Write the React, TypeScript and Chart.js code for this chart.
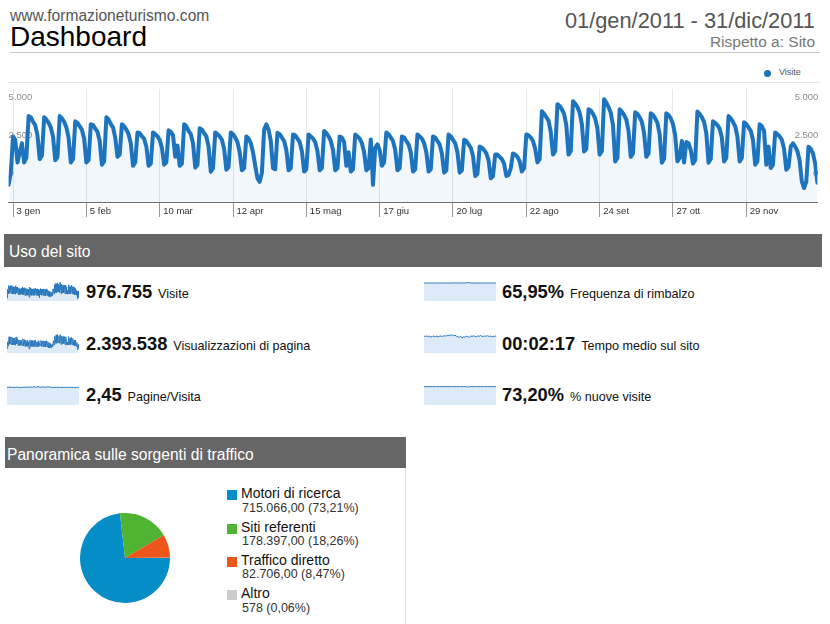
import React, { useEffect, useRef } from 'react';
import { Chart, registerables } from 'chart.js';

Chart.register(...registerables);

const FONT = "'Liberation Sans', Arial, Helvetica, sans-serif";
Chart.defaults.font.family = FONT;

// Daily visits, 2011 (one array per month)
const jan = [760, 1300, 2900, 2750, 1750, 2200, 2600, 1750, 1950, 3800, 3750, 3550, 3400, 2950, 1900, 2050, 3750, 3650, 3500, 3300, 2900, 1850, 2000, 3800, 3700, 3550, 3300, 2850, 1750, 1900, 3570];
const feb = [3500, 3350, 3200, 2800, 1750, 1850, 3440, 3400, 3250, 3100, 2700, 1650, 1800, 3750, 3650, 3450, 3300, 2850, 2000, 2100, 3440, 3350, 3200, 3000, 2600, 1600, 1750, 3080];
const mar = [3050, 2900, 2800, 2450, 1600, 1700, 3080, 3000, 2900, 2750, 2400, 1650, 1750, 3170, 3100, 2950, 2000, 2500, 1600, 1700, 3440, 3350, 3150, 3000, 2600, 1520, 1650, 3260, 3200, 3050, 2900];
const apr = [2450, 1340, 1500, 3080, 3000, 2900, 2750, 2350, 1430, 1550, 3080, 3000, 2850, 2650, 2200, 1400, 1500, 2900, 2800, 2600, 2200, 1600, 1050, 890, 1300, 3200, 3440, 3200, 2700, 1500];
const may = [1450, 3060, 3000, 2850, 2700, 2300, 1400, 1500, 2990, 2950, 2800, 2650, 2250, 1350, 1450, 2990, 2900, 2800, 2650, 2250, 1400, 1500, 3140, 3050, 2900, 2700, 2300, 1400, 1500, 2900, 2850];
const jun = [2650, 1600, 2200, 1350, 1450, 2990, 2900, 2800, 2600, 2200, 1400, 1500, 2770, 760, 2400, 2550, 2300, 1600, 1750, 3080, 3000, 2850, 2700, 2300, 1400, 1500, 2900, 2850, 2700, 2550];
const jul = [2200, 1350, 1450, 2990, 2900, 2800, 2600, 2200, 1350, 1450, 2900, 2850, 2700, 2550, 2150, 1300, 1400, 2990, 2900, 2750, 2600, 2200, 1300, 1400, 2750, 2700, 2550, 2400, 2050, 1150, 1250];
const aug = [2450, 2400, 2300, 2150, 1850, 1050, 1150, 2100, 2100, 2000, 1900, 1700, 1150, 1200, 1500, 2150, 2100, 2000, 1800, 1350, 1500, 2990, 2950, 2850, 2700, 2350, 1750, 1900, 4020, 3900, 3750];
const sep = [3600, 3100, 2100, 2250, 4330, 4250, 4100, 3900, 3400, 2100, 2250, 4460, 4350, 4200, 3950, 3450, 2230, 2350, 4100, 4050, 3900, 3700, 3250, 2100, 2250, 4550, 4400, 4200, 3950, 3400];
const oct = [1790, 1950, 4100, 4000, 3850, 3650, 3150, 2000, 2150, 3970, 3900, 3750, 3550, 3050, 2000, 2150, 3930, 3850, 3700, 3500, 3000, 1740, 1900, 3930, 3850, 3700, 3450, 2950, 1800, 1950, 2700];
const nov = [1750, 2650, 2600, 2300, 1700, 1850, 4000, 3900, 3750, 3550, 3050, 1740, 1900, 3570, 3500, 3400, 3250, 2850, 1790, 1950, 3800, 3700, 3550, 3350, 2900, 1790, 1950, 3530, 3450, 3300];
const dec = [3150, 2750, 1650, 1800, 3440, 3350, 3150, 1650, 2450, 1500, 1650, 3080, 3000, 2900, 2750, 2350, 1430, 1550, 2450, 2600, 2450, 2250, 1850, 900, 620, 900, 2450, 2350, 2150, 1700, 850];

const visits = [...jan, ...feb, ...mar, ...apr, ...may, ...jun, ...jul, ...aug, ...sep, ...oct, ...nov, ...dec];

// X axis: day-of-year of each labelled tick
const tickDays = [2, 35, 68, 101, 134, 167, 200, 233, 266, 299, 332];
const tickLabels = ['3 gen', '5 feb', '10 mar', '12 apr', '15 mag', '17 giu', '20 lug', '22 ago', '24 set', '27 ott', '29 nov'];
const yTickLabels = ['5.000', '2.500', '0'];

// Sparkline series (weekly resolution)
const pageviews = [2500, 6100, 3900, 8800, 4800, 8600, 4700, 8700, 4400, 8100, 4400, 8000, 4200, 8600, 5000, 7700, 4100, 7100, 4000, 7000, 4200, 6700, 4000, 7700, 3900, 7300, 3500, 6900, 3700, 6700, 3600, 5900, 2300, 6900, 3600, 6800, 3600, 6700, 3400, 6700, 3500, 7000, 3500, 6000, 3400, 6600, 3600, 5300, 4100, 6800, 3500, 6500, 3400, 6600, 3400, 6500, 3300, 6600, 3300, 6100, 2900, 5500, 2700, 4800, 2900, 4700, 3500, 6700, 4500, 9100, 5300, 9800, 5300, 10000, 5600, 9300, 5300, 10000, 4600, 9200, 5100, 8900, 5100, 8800, 4500, 8800, 4600, 5900, 4300, 8900, 4500, 8100, 4600, 8500, 4600, 7900, 4200, 6900, 3800, 6900, 3600, 5700, 1900, 4600, 2100];
const pagesPerVisit = [2.40, 2.46, 2.44, 2.47, 2.43, 2.45, 2.42, 2.48, 2.44, 2.41, 2.46, 2.43, 2.45, 2.47, 2.44, 2.50, 2.46, 2.48, 2.45, 2.52, 2.47, 2.49, 2.55, 2.48, 2.46, 2.50, 2.47, 2.45, 2.49, 2.52, 2.47, 2.44, 2.46, 2.42, 2.45, 2.43, 2.47, 2.44, 2.41, 2.45, 2.43, 2.46, 2.44, 2.42, 2.45, 2.43, 2.44, 2.41, 2.44, 2.42, 2.43, 2.45];
const bounceRate = [66.2, 65.8, 66.0, 65.7, 66.1, 65.9, 66.3, 65.8, 66.0, 65.6, 65.9, 66.1, 65.7, 66.0, 65.8, 66.2, 65.9, 66.1, 65.7, 65.9, 66.0, 66.4, 66.1, 66.3, 65.9, 66.1, 65.8, 66.0, 66.2, 65.9, 66.6, 67.6, 66.4, 66.1, 65.9, 65.7, 66.0, 65.8, 66.1, 65.9, 65.8, 66.0, 65.9, 65.7, 66.1, 65.9, 65.8, 66.0, 65.9, 66.1, 65.8, 66.0];
const avgTime = [138, 134, 140, 132, 136, 130, 135, 138, 133, 137, 131, 136, 139, 134, 141, 137, 143, 139, 147, 141, 150, 138, 145, 136, 132, 128, 135, 124, 131, 129, 136, 133, 127, 138, 134, 140, 136, 131, 139, 135, 142, 137, 133, 139, 136, 141, 135, 138, 132, 137, 134, 140];
const newVisits = [73.0, 73.3, 73.1, 73.4, 73.2, 73.0, 73.3, 73.1, 73.2, 73.4, 73.1, 73.3, 73.0, 73.2, 73.4, 73.1, 73.3, 73.2, 73.0, 73.3, 73.1, 73.2, 73.4, 73.1, 73.3, 73.0, 73.2, 73.4, 73.1, 73.0, 72.6, 71.4, 72.9, 73.1, 73.2, 73.0, 73.3, 73.1, 73.2, 73.4, 73.1, 73.3, 73.0, 73.2, 73.1, 73.3, 73.2, 73.0, 73.3, 73.1, 73.2, 73.0];

// Traffic sources
const sourceLabels = ['Motori di ricerca', 'Siti referenti', 'Traffico diretto', 'Altro'];
const sourceValues = [715066, 178397, 82706, 578];
const sourceValueText = ['715.066,00 (73,21%)', '178.397,00 (18,26%)', '82.706,00 (8,47%)', '578 (0,06%)'];
const sourceColors = ['#058dc7', '#50b432', '#ed561b', '#cccccc'];

const LINE_BLUE = '#1d74bd';

// y labels sit inside the plot, mirrored on both sides, beneath the line
const yLabelsPlugin = {
  id: 'yLabels',
  beforeDatasetsDraw(chart: any) {
    const { ctx, chartArea } = chart;
    ctx.save();
    ctx.font = `9.5px ${FONT}`;
    ctx.fillStyle = '#8c8c8c';
    ctx.textBaseline = 'middle';
    yTickLabels.forEach((t, i) => {
      const y = chartArea.top + 8.7 + i * 37.8;
      ctx.textAlign = 'left';
      ctx.fillText(t, chartArea.left, y);
      ctx.textAlign = 'right';
      ctx.fillText(t, chartArea.right + 1, y);
    });
    ctx.restore();
  },
};

function mainConfig(): any {
  return {
    type: 'line',
    data: {
      datasets: [
        {
          data: visits.map((v, i) => ({ x: i, y: v })),
          borderColor: LINE_BLUE,
          borderWidth: 4,
          backgroundColor: 'rgba(29,116,189,0.06)',
          fill: 'origin',
          pointRadius: 0,
          tension: 0,
          borderJoinStyle: 'round',
          borderCapStyle: 'round',
        },
      ],
    },
    options: {
      animation: false,
      responsive: false,
      events: [],
      layout: { padding: { left: 8.6, right: 12.6, top: 5, bottom: 0 } },
      plugins: { legend: { display: false }, tooltip: { enabled: false } },
      scales: {
        x: {
          type: 'linear',
          min: 0,
          max: 364,
          afterBuildTicks: (s: any) => {
            s.ticks = tickDays.map((v) => ({ value: v }));
          },
          afterFit: (s: any) => {
            s.height = 20;
          },
          grid: { color: '#e6e6e6', tickLength: 15, tickColor: '#9a9a9a', lineWidth: 1 },
          border: { color: '#707070', width: 1 },
          ticks: {
            autoSkip: false,
            maxRotation: 0,
            align: 'start',
            labelOffset: 3.5,
            padding: -11,
            color: '#333',
            font: { size: 9.5 },
            callback: (_v: any, i: number) => tickLabels[i],
          },
        },
        y: { display: false, min: 0, max: 5000 },
      },
    },
    plugins: [yLabelsPlugin],
  };
}

function sparkConfig(values: number[], lineWidth: number): any {
  const max = Math.max(...values);
  return {
    type: 'line',
    data: {
      labels: values.map((_, i) => i),
      datasets: [
        {
          data: values,
          borderColor: '#2a78bd',
          borderWidth: lineWidth,
          backgroundColor: '#dcebf7',
          fill: 'origin',
          pointRadius: 0,
          tension: 0,
        },
      ],
    },
    options: {
      animation: false,
      responsive: false,
      events: [],
      layout: { padding: 0 },
      plugins: { legend: { display: false }, tooltip: { enabled: false } },
      scales: {
        x: { display: false },
        y: { display: false, min: 0, max: max * 1.03 },
      },
    },
  };
}

function pieConfig(): any {
  return {
    type: 'pie',
    data: {
      labels: sourceLabels,
      datasets: [{ data: sourceValues, backgroundColor: sourceColors, borderWidth: 0 }],
    },
    options: {
      animation: false,
      responsive: false,
      events: [],
      rotation: 90,
      layout: { padding: 0 },
      plugins: { legend: { display: false }, tooltip: { enabled: false } },
    },
  };
}

function ChartCanvas(props: { left: number; top: number; width: number; height: number; build: () => any }) {
  const { left, top, width, height, build } = props;
  const ref = useRef<HTMLCanvasElement>(null);
  useEffect(() => {
    const chart = new Chart(ref.current as HTMLCanvasElement, build());
    return () => chart.destroy();
  }, []);
  return (
    <canvas
      ref={ref}
      width={width}
      height={height}
      style={{ position: 'absolute', left, top, width, height }}
    />
  );
}

// Text placed by its baseline
function T(props: {
  x: number;
  base: number;
  size: number;
  color?: string;
  bold?: boolean;
  right?: boolean;
  children: React.ReactNode;
}) {
  const { x, base, size, color = '#000', bold, right, children } = props;
  const style: React.CSSProperties = {
    position: 'absolute',
    top: base - 0.8465 * size,
    fontSize: size,
    lineHeight: `${size}px`,
    color,
    fontWeight: bold ? 'bold' : 'normal',
    whiteSpace: 'nowrap',
  };
  if (right) style.right = 830 - x;
  else style.left = x;
  return <div style={style}>{children}</div>;
}

function Metric(props: { x: number; base: number; value: string; label: string }) {
  return (
    <T x={props.x} base={props.base} size={18.3} bold color="#111">
      {props.value}
      <span style={{ fontSize: 12.6, fontWeight: 'normal', marginLeft: 6 }}>{props.label}</span>
    </T>
  );
}

function Bar(props: { left: number; top: number; width: number; height: number; title: string }) {
  return (
    <div
      style={{
        position: 'absolute',
        left: props.left,
        top: props.top,
        width: props.width,
        height: props.height,
        background: '#666666',
      }}
    />
  );
}

export default function App() {
  const rows = [282, 334, 386];
  const bases = [298, 350, 401];
  return (
    <div
      style={{
        position: 'absolute',
        left: 0,
        top: 0,
        width: 830,
        height: 624,
        background: '#ffffff',
        overflow: 'hidden',
        fontFamily: FONT,
      }}
    >
      {/* header */}
      <T x={10} base={21} size={15.6} color="#555">www.formazioneturismo.com</T>
      <T x={10} base={47} size={28} color="#000">Dashboard</T>
      <T x={815} base={28} size={21.8} color="#555" right>01/gen/2011 - 31/dic/2011</T>
      <T x={815} base={47} size={15.5} color="#777" right>Rispetto a: Sito</T>
      <div style={{ position: 'absolute', left: 10, top: 52, width: 810, height: 1, background: '#c8c8c8' }} />

      {/* legend of the visits chart */}
      <div style={{ position: 'absolute', left: 763.5, top: 69.5, width: 7, height: 7, borderRadius: '50%', background: LINE_BLUE }} />
      <T x={779} base={76} size={9} color="#555">Visite</T>
      <div style={{ position: 'absolute', left: 8, top: 82, width: 812, height: 1, background: '#e6e6e6' }} />

      <ChartCanvas left={0} top={84} width={830} height={138} build={mainConfig} />

      {/* Uso del sito */}
      <Bar left={4} top={234} width={818} height={33} title="Uso del sito" />
      <T x={9} base={257} size={15.6} color="#fff">Uso del sito</T>

      <ChartCanvas left={7} top={rows[0]} width={72} height={19} build={() => sparkConfig(visits, 1)} />
      <ChartCanvas left={7} top={rows[1]} width={72} height={19} build={() => sparkConfig(pageviews, 1)} />
      <ChartCanvas left={7} top={rows[2]} width={72} height={19} build={() => sparkConfig(pagesPerVisit, 1)} />
      <ChartCanvas left={424} top={rows[0]} width={72} height={19} build={() => sparkConfig(bounceRate, 1)} />
      <ChartCanvas left={424} top={rows[1]} width={72} height={19} build={() => sparkConfig(avgTime, 1)} />
      <ChartCanvas left={424} top={rows[2]} width={72} height={19} build={() => sparkConfig(newVisits, 1)} />

      <Metric x={86} base={bases[0]} value="976.755" label="Visite" />
      <Metric x={86} base={bases[1]} value="2.393.538" label="Visualizzazioni di pagina" />
      <Metric x={86} base={bases[2]} value="2,45" label="Pagine/Visita" />
      <Metric x={502} base={bases[0]} value="65,95%" label="Frequenza di rimbalzo" />
      <Metric x={502} base={bases[1]} value="00:02:17" label="Tempo medio sul sito" />
      <Metric x={502} base={bases[2]} value="73,20%" label="% nuove visite" />

      {/* Panoramica sulle sorgenti di traffico */}
      <Bar left={5} top={437} width={401} height={31} title="Panoramica sulle sorgenti di traffico" />
      <T x={7} base={460} size={15.6} color="#fff">Panoramica sulle sorgenti di traffico</T>
      <div style={{ position: 'absolute', left: 405, top: 468, width: 1, height: 156, background: '#e0e0e0' }} />

      <ChartCanvas left={80} top={513} width={90} height={90} build={pieConfig} />

      {sourceLabels.map((label, i) => {
        const base = 498.3 + i * 33.3;
        return (
          <React.Fragment key={label}>
            <div style={{ position: 'absolute', left: 227, top: base - 8, width: 10, height: 10, background: sourceColors[i] }} />
            <T x={241} base={base} size={14} color="#111">{label}</T>
            <T x={242} base={base + 14} size={12.5} color="#333">{sourceValueText[i]}</T>
          </React.Fragment>
        );
      })}
    </div>
  );
}
